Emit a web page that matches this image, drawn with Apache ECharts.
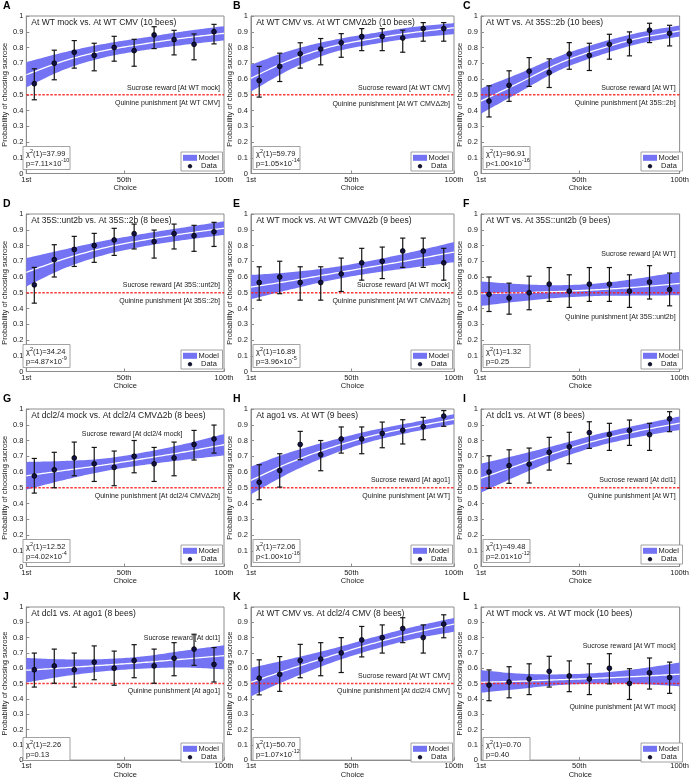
<!DOCTYPE html>
<html><head><meta charset="utf-8">
<script src="https://cdn.jsdelivr.net/npm/echarts@6/dist/echarts.min.js"></script>
<style>html,body{margin:0;padding:0;background:#fff}#c{width:692px;height:780px}</style>
</head><body><div id="c"></div>
<script>
// ---------------- DATA ----------------
const panelLetters = ['A','B','C','D','E','F','G','H','I','J','K','L'];
const panelTitles = [
  'At WT mock vs. At WT CMV (10 bees)',
  'At WT CMV vs. At WT CMV\u03942b (10 bees)',
  'At WT vs. At 35S::2b (10 bees)',
  'At 35S::unt2b vs. At 35S::2b (8 bees)',
  'At WT mock vs. At WT CMV\u03942b (9 bees)',
  'At WT vs. At 35S::unt2b (9 bees)',
  'At dcl2/4 mock vs. At dcl2/4 CMV\u03942b (8 bees)',
  'At ago1 vs. At WT (9 bees)',
  'At dcl1 vs. At WT (8 bees)',
  'At dcl1 vs. At ago1 (8 bees)',
  'At WT CMV vs. At dcl2/4 CMV (8 bees)',
  'At WT mock vs. At WT mock (10 bees)'
];
const sucroseText = [
  'Sucrose reward [At WT mock]','Sucrose reward [At WT CMV]','Sucrose reward [At WT]',
  'Sucrose reward [At 35S::unt2b]','Sucrose reward [At WT mock]','Sucrose reward [At WT]',
  'Sucrose reward [At dcl2/4 mock]','Sucrose reward [At ago1]','Sucrose reward [At dcl1]',
  'Sucrose reward [At dcl1]','Sucrose reward [At WT CMV]','Sucrose reward [At WT mock]'
];
const quinineText = [
  'Quinine punishment [At WT CMV]','Quinine punishment [At WT CMV\u03942b]','Quinine punishment [At 35S::2b]',
  'Quinine punishment [At 35S::2b]','Quinine punishment [At WT CMV\u03942b]','Quinine punishment [At 35S::unt2b]',
  'Quinine punishment [At dcl2/4 CMV\u03942b]','Quinine punishment [At WT]','Quinine punishment [At WT]',
  'Quinine punishment [At ago1]','Quinine punishment [At dcl2/4 CMV]','Quinine punishment [At WT mock]'
];
const chiValues = ['37.99','59.79','96.91','34.24','16.89','1.32','12.52','72.06','49.48','2.26','50.70','0.70'];
const pRelation = ['=','=','<','=','=','=','=','<','=','=','=','='];
const pMantissa = ['7.11','1.05','1.00','4.87','3.96','0.25','4.02','1.00','2.01','0.13','1.07','0.40'];
const pExponent = ['-10','-14','-16','-9','-5','','-4','-16','-12','','-12',''];

const xTickValues = [1, 50, 100];
const xTickLabels = ['1st', '50th', '100th'];
const chanceLevel = 0.5;

const dataX = [5,15,25,35,45,55,65,75,85,95];
const dataMean = [
  [0.57,0.70,0.77,0.75,0.80,0.78,0.88,0.85,0.82,0.90],
  [0.59,0.68,0.76,0.79,0.83,0.87,0.87,0.86,0.92,0.92],
  [0.46,0.56,0.65,0.64,0.76,0.75,0.82,0.84,0.91,0.89],
  [0.55,0.71,0.775,0.80,0.835,0.875,0.825,0.875,0.862,0.887],
  [0.565,0.60,0.565,0.565,0.62,0.69,0.70,0.765,0.765,0.69],
  [0.49,0.466,0.50,0.555,0.51,0.555,0.555,0.51,0.568,0.52],
  [0.575,0.614,0.689,0.652,0.629,0.70,0.652,0.689,0.775,0.81],
  [0.535,0.61,0.775,0.71,0.81,0.81,0.845,0.865,0.888,0.955],
  [0.60,0.64,0.65,0.725,0.76,0.85,0.838,0.863,0.837,0.938],
  [0.59,0.615,0.59,0.64,0.60,0.65,0.615,0.665,0.725,0.625],
  [0.535,0.56,0.65,0.66,0.70,0.785,0.80,0.86,0.80,0.888],
  [0.49,0.51,0.53,0.58,0.55,0.53,0.60,0.50,0.57,0.54]
];
const dataLower = [
  [0.468,0.595,0.669,0.652,0.713,0.681,0.793,0.753,0.722,0.823],
  [0.485,0.584,0.669,0.69,0.738,0.78,0.78,0.77,0.84,0.84],
  [0.359,0.458,0.553,0.546,0.662,0.654,0.726,0.747,0.831,0.81],
  [0.434,0.60,0.667,0.693,0.737,0.778,0.72,0.778,0.763,0.794],
  [0.453,0.494,0.453,0.453,0.508,0.58,0.59,0.661,0.661,0.58],
  [0.381,0.364,0.392,0.445,0.407,0.445,0.445,0.407,0.46,0.417],
  [0.466,0.50,0.576,0.54,0.513,0.595,0.54,0.576,0.676,0.72],
  [0.424,0.504,0.678,0.608,0.72,0.716,0.754,0.778,0.805,0.89],
  [0.496,0.528,0.53,0.612,0.653,0.75,0.737,0.769,0.737,0.856],
  [0.477,0.502,0.477,0.525,0.489,0.538,0.502,0.551,0.619,0.51],
  [0.426,0.449,0.538,0.551,0.572,0.674,0.699,0.767,0.699,0.799],
  [0.388,0.407,0.428,0.477,0.447,0.428,0.498,0.396,0.464,0.436]
];
const dataUpper = [
  [0.665,0.783,0.844,0.827,0.871,0.852,0.932,0.909,0.886,0.947],
  [0.68,0.764,0.83,0.857,0.888,0.92,0.92,0.91,0.958,0.958],
  [0.557,0.652,0.736,0.728,0.831,0.827,0.884,0.899,0.954,0.941],
  [0.661,0.805,0.858,0.877,0.909,0.936,0.898,0.936,0.928,0.947],
  [0.665,0.70,0.665,0.665,0.72,0.782,0.79,0.847,0.847,0.782],
  [0.60,0.561,0.605,0.66,0.614,0.66,0.66,0.614,0.672,0.625],
  [0.686,0.725,0.79,0.756,0.733,0.80,0.756,0.79,0.864,0.898],
  [0.646,0.716,0.858,0.80,0.886,0.886,0.917,0.932,0.947,0.99],
  [0.703,0.741,0.752,0.82,0.852,0.919,0.909,0.93,0.909,0.983],
  [0.699,0.725,0.699,0.746,0.712,0.754,0.725,0.767,0.822,0.735],
  [0.655,0.676,0.756,0.767,0.80,0.873,0.883,0.93,0.883,0.949],
  [0.589,0.61,0.629,0.678,0.648,0.629,0.695,0.597,0.667,0.64]
];

const modelX = [1,20,40,60,80,100];
const modelMid = [
  [0.627,0.715,0.78,0.823,0.86,0.89],
  [0.605,0.72,0.805,0.855,0.895,0.925],
  [0.46,0.575,0.70,0.79,0.86,0.905],
  [0.63,0.715,0.785,0.835,0.875,0.91],
  [0.536,0.575,0.62,0.665,0.71,0.758],
  [0.494,0.50,0.508,0.52,0.537,0.559],
  [0.576,0.61,0.645,0.685,0.727,0.773],
  [0.547,0.66,0.755,0.83,0.885,0.935],
  [0.561,0.645,0.73,0.805,0.862,0.91],
  [0.587,0.603,0.62,0.638,0.66,0.682],
  [0.508,0.595,0.68,0.76,0.83,0.888],
  [0.508,0.515,0.525,0.535,0.547,0.561]
];
const modelLower = [
  [0.547,0.66,0.737,0.783,0.817,0.845],
  [0.52,0.66,0.765,0.82,0.86,0.885],
  [0.38,0.515,0.655,0.75,0.825,0.87],
  [0.54,0.655,0.74,0.795,0.835,0.867],
  [0.459,0.52,0.58,0.625,0.66,0.694],
  [0.416,0.445,0.468,0.48,0.482,0.484],
  [0.488,0.55,0.605,0.645,0.677,0.705],
  [0.459,0.595,0.71,0.795,0.855,0.903],
  [0.469,0.58,0.685,0.767,0.824,0.867],
  [0.507,0.548,0.58,0.598,0.605,0.593],
  [0.417,0.53,0.635,0.72,0.79,0.838],
  [0.44,0.465,0.49,0.50,0.497,0.482]
];
const modelUpper = [
  [0.707,0.77,0.823,0.863,0.903,0.935],
  [0.69,0.78,0.845,0.89,0.93,0.955],
  [0.54,0.635,0.745,0.83,0.895,0.94],
  [0.72,0.775,0.83,0.875,0.915,0.953],
  [0.613,0.63,0.66,0.705,0.76,0.822],
  [0.572,0.555,0.548,0.56,0.592,0.634],
  [0.664,0.67,0.685,0.725,0.777,0.841],
  [0.635,0.725,0.80,0.865,0.915,0.967],
  [0.653,0.71,0.775,0.843,0.90,0.953],
  [0.667,0.658,0.66,0.678,0.715,0.75],
  [0.602,0.66,0.725,0.80,0.87,0.928],
  [0.587,0.565,0.56,0.57,0.597,0.637]
];

// ---------------- LAYOUT / STYLE ----------------
const colLeft = [21, 251, 481];
const colW = 203;
const rowTop = [16, 214, 409, 607];
const rowH = 157.5;
const sucroseAnchor = [[98,0.542,'right'],[98,0.542,'right'],[98,0.542,'right'],[98,0.55,'right'],[98,0.547,'right'],[98,0.746,'right'],
                       [54,0.843,'center'],[98,0.55,'right'],[98,0.547,'right'],[98,0.80,'right'],[98,0.55,'right'],[98,0.746,'right']];
const quinineAnchor = [0.447,0.443,0.447,0.445,0.445,0.343,0.445,0.449,0.445,0.449,0.449,0.345];

const FONT = 'Liberation Sans, Arial, Helvetica, sans-serif';
const AX = '#8c8c8c';
const TXT = '#1a1a1a';
const BAND = '#7373f3';
const PT = '#111144';
const RED = '#ff1a1a';
const FS = 7.5;

// Catmull-Rom sampling in pixel space (drawing only)
function spline(pts, seg) {
  const out = [];
  for (let k = 0; k < pts.length - 1; k++) {
    const p0 = pts[k-1] || pts[k], p1 = pts[k], p2 = pts[k+1], p3 = pts[k+2] || pts[k+1];
    for (let s = 0; s < seg; s++) {
      const t = s / seg, t2 = t*t, t3 = t2*t;
      const f = (a,b,c,d) => 0.5*((2*b) + (-a+c)*t + (2*a-5*b+4*c-d)*t2 + (-a+3*b-3*c+d)*t3);
      out.push([f(p0[0],p1[0],p2[0],p3[0]), f(p0[1],p1[1],p2[1],p3[1])]);
    }
  }
  out.push(pts[pts.length-1]);
  return out;
}

const chart = echarts.init(document.getElementById('c'));
const option = {animation:false, backgroundColor:'#fff', grid:[], xAxis:[], yAxis:[], series:[], graphic:[]};

for (let i = 0; i < 12; i++) {
  const r = Math.floor(i / 3), c = i % 3;
  const gl = colLeft[c], gt = rowTop[r], gw = colW, gh = rowH, gr = gl + gw, gb = gt + gh;
  option.grid.push({left:gl, top:gt, width:gw, height:gh, show:true, borderColor:AX, borderWidth:1, backgroundColor:'#fff'});
  option.xAxis.push({
    gridIndex:i, type:'value', min:1, max:100,
    axisLine:{show:true, lineStyle:{color:AX, width:1}},
    axisTick:{show:true, inside:true, length:3, customValues:xTickValues, lineStyle:{color:AX}},
    axisLabel:{customValues:xTickValues, margin:2, fontSize:FS, fontFamily:FONT, color:TXT,
      formatter:(v)=>{ const k = xTickValues.indexOf(Math.round(v)); return k >= 0 ? xTickLabels[k] : ''; }},
    splitLine:{show:false},
    name:'Choice', nameLocation:'middle', nameGap:9, nameTextStyle:{fontSize:FS, fontFamily:FONT, color:TXT}
  });
  option.yAxis.push({
    gridIndex:i, type:'value', min:0, max:1, interval:0.1,
    axisLine:{show:true, lineStyle:{color:AX, width:1}},
    axisTick:{show:true, inside:true, length:3, lineStyle:{color:AX}},
    axisLabel:{margin:3, fontSize:FS, fontFamily:FONT, color:TXT, formatter:(v)=>String(Math.round(v*10)/10)},
    splitLine:{show:false},
    name:'Probability of choosing sucrose', nameLocation:'middle', nameGap:12,
    nameTextStyle:{fontSize:FS, fontFamily:FONT, color:TXT}
  });
  // model band + model mean line
  option.series.push({type:'custom', xAxisIndex:i, yAxisIndex:i, silent:true, z:1,
    data:modelX.map((x,k)=>[x, modelLower[i][k], modelMid[i][k], modelUpper[i][k]]), encode:{x:0, y:[1,3]},
    renderItem:(params, api)=>{
      if (params.dataIndex !== 0) return null;
      const n = modelX.length, up = [], lo = [], mid = [];
      for (let k = 0; k < n; k++) {
        const x = api.value(0, k);
        lo.push(api.coord([x, api.value(1, k)]));
        mid.push(api.coord([x, api.value(2, k)]));
        up.push(api.coord([x, api.value(3, k)]));
      }
      const su = spline(up, 16), sl = spline(lo, 16), sm = spline(mid, 16);
      return {type:'group', children:[
        {type:'polygon', shape:{points:su.concat(sl.slice().reverse())}, style:{fill:BAND}},
        {type:'polyline', shape:{points:sm}, style:{stroke:'#ffffff', lineWidth:1.3, fill:null}}
      ]};
    }});
  // chance level line
  option.series.push({type:'custom', xAxisIndex:i, yAxisIndex:i, silent:true, z:2,
    data:[[50, chanceLevel]], encode:{x:0, y:1},
    renderItem:(params, api)=>{
      const cs = params.coordSys;
      const p = api.coord([api.value(0), api.value(1)]);
      return {type:'line', shape:{x1:cs.x, y1:p[1], x2:cs.x + cs.width, y2:p[1]},
        style:{stroke:RED, lineWidth:1.4, lineDash:[2.5,1.5], opacity:0.85}};
    }});
  // error bars
  option.series.push({type:'custom', xAxisIndex:i, yAxisIndex:i, silent:true, z:3,
    data:dataX.map((x,k)=>[x, dataLower[i][k], dataUpper[i][k]]), encode:{x:0, y:[1,2]},
    renderItem:(params, api)=>{
      const x = api.value(0);
      const p1 = api.coord([x, api.value(2)]), p2 = api.coord([x, api.value(1)]);
      const cw = 2.6, st = {stroke:'#141414', lineWidth:1.2};
      return {type:'group', children:[
        {type:'line', shape:{x1:p1[0], y1:p1[1], x2:p2[0], y2:p2[1]}, style:st},
        {type:'line', shape:{x1:p1[0]-cw, y1:p1[1], x2:p1[0]+cw, y2:p1[1]}, style:st},
        {type:'line', shape:{x1:p2[0]-cw, y1:p2[1], x2:p2[0]+cw, y2:p2[1]}, style:st}
      ]};
    }});
  // data points
  option.series.push({type:'scatter', xAxisIndex:i, yAxisIndex:i, silent:true, z:4,
    data:dataX.map((x,k)=>[x, dataMean[i][k]]), symbol:'circle', symbolSize:4.8,
    itemStyle:{color:PT, borderColor:'#000', borderWidth:0.8, opacity:1}});
  // texts anchored in data space
  const texts = [
    {t:panelTitles[i], align:'left', size:8.5},
    {t:sucroseText[i], align:sucroseAnchor[i][2], size:7},
    {t:quinineText[i], align:'right', size:7}
  ];
  option.series.push({type:'custom', xAxisIndex:i, yAxisIndex:i, silent:true, z:5,
    data:[[3.5, 0.958],[sucroseAnchor[i][0], sucroseAnchor[i][1]],[98, quinineAnchor[i]]],
    renderItem:(params, api)=>{
      const p = api.coord([api.value(0), api.value(1)]);
      const o = texts[params.dataIndex];
      return {type:'text', x:p[0], y:p[1], style:{text:o.t, align:o.align, textAlign:o.align,
        verticalAlign:'middle', textVerticalAlign:'middle', fontSize:o.size, fontFamily:FONT, fill:TXT}};
    }});

  // panel letter
  option.graphic.push({type:'text', x:gl-18, y:gt-10, silent:true,
    style:{text:panelLetters[i], fontSize:10.5, fontWeight:'bold', fontFamily:FONT, fill:'#000',
      verticalAlign:'middle', textVerticalAlign:'middle'}});
  // stats box
  const rich = {s:{fontSize:5.5, fontFamily:FONT, fill:TXT, verticalAlign:'top'}};
  option.graphic.push({type:'rect', silent:true, z:10, shape:{x:gl+2, y:gb-27, width:47, height:23},
    style:{fill:'#fff', stroke:AX, lineWidth:0.8}});
  option.graphic.push({type:'text', silent:true, z:11, x:gl+5, y:gb-19.5,
    style:{text:'\u03c7{s|2}(1)='+chiValues[i], rich:rich, fontSize:FS, fontFamily:FONT, fill:TXT,
      lineHeight:12, verticalAlign:'middle', textVerticalAlign:'middle'}});
  option.graphic.push({type:'text', silent:true, z:11, x:gl+5, y:gb-10,
    style:{text:'p'+pRelation[i]+pMantissa[i]+(pExponent[i] ? '\u00d710{s|'+pExponent[i]+'}' : ''), rich:rich,
      fontSize:FS, fontFamily:FONT, fill:TXT, lineHeight:12, verticalAlign:'middle', textVerticalAlign:'middle'}});
  // legend box
  option.graphic.push({type:'rect', silent:true, z:10, shape:{x:gr-43, y:gb-21.5, width:41.5, height:19},
    style:{fill:'#fff', stroke:AX, lineWidth:0.8}});
  option.graphic.push({type:'rect', silent:true, z:11, shape:{x:gr-41, y:gb-18.7, width:14, height:6},
    style:{fill:BAND}});
  option.graphic.push({type:'text', silent:true, z:11, x:gr-25.5, y:gb-15.7,
    style:{text:'Model', fontSize:FS, fontFamily:FONT, fill:TXT, verticalAlign:'middle', textVerticalAlign:'middle'}});
  option.graphic.push({type:'circle', silent:true, z:11, shape:{cx:gr-34, cy:gb-7.3, r:1.8},
    style:{fill:PT, stroke:'#000', lineWidth:0.7}});
  option.graphic.push({type:'text', silent:true, z:11, x:gr-23, y:gb-7.3,
    style:{text:'Data', fontSize:FS, fontFamily:FONT, fill:TXT, verticalAlign:'middle', textVerticalAlign:'middle'}});
}
chart.setOption(option);
</script></body></html>
